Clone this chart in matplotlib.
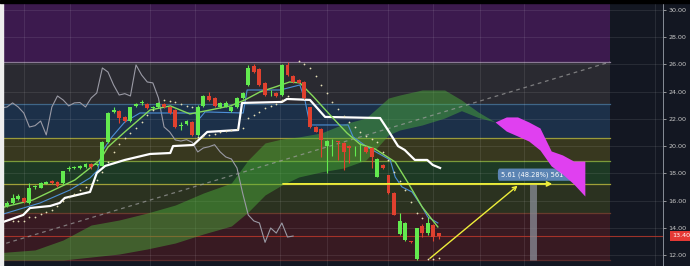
import numpy as np
import matplotlib.pyplot as plt
from matplotlib.patches import Rectangle, FancyBboxPatch

# candles, bar index 0..77
opens = [15.60, 15.82, 16.11, 16.19, 15.82, 16.98, 16.92, 17.22, 17.44, 17.36,
         17.29, 18.30, 18.39, 18.39, 18.46, 18.68, 18.60, 18.54, 20.30, 22.51,
         22.58, 22.14, 21.84, 22.95, 23.15, 23.09, 22.80, 22.87, 23.09, 22.87,
         22.65, 21.46, 21.62, 21.77, 20.82, 22.95, 23.68, 23.53, 22.87, 22.90,
         22.58, 22.87, 23.53, 24.49, 25.89, 25.66, 24.64, 23.80, 23.90, 23.75,
         25.96, 25.15, 24.86, 24.71, 22.87, 21.40, 21.26, 20.00, 20.42, 20.32,
         20.23, 19.99, 19.90, 20.05, 19.93, 19.86, 17.73, 18.61, 17.88, 16.55,
         13.54, 13.10, 12.98, 11.70, 14.13, 13.61, 14.20, 13.61]
closes = [15.82, 16.19, 16.33, 15.89, 16.92, 17.02, 17.29, 17.36, 17.29, 17.07,
          18.17, 18.34, 18.46, 18.54, 18.68, 18.46, 18.63, 20.30, 22.43, 22.65,
          22.06, 21.84, 22.87, 23.09, 23.19, 22.80, 22.87, 23.17, 22.87, 22.43,
          21.40, 21.50, 21.84, 20.82, 22.87, 23.68, 23.39, 22.95, 23.17, 23.20,
          22.87, 23.53, 23.90, 25.74, 25.44, 24.49, 23.75, 23.85, 23.68, 25.96,
          25.22, 24.71, 24.64, 23.53, 21.40, 21.04, 20.45, 20.37, 20.47, 20.28,
          19.57, 19.86, 19.95, 20.10, 19.57, 19.20, 19.05, 18.39, 16.55, 14.94,
          14.50, 14.35, 12.93, 13.98, 13.61, 14.35, 13.32, 13.39]
highs = [16.00, 16.48, 16.45, 16.25, 17.29, 17.15, 17.35, 17.42, 17.50, 17.40,
         18.20, 18.50, 18.55, 18.60, 18.75, 18.72, 18.75, 20.35, 22.50, 22.87,
         22.65, 22.20, 22.90, 23.20, 23.35, 23.15, 22.95, 23.25, 23.15, 22.95,
         22.70, 21.80, 21.95, 21.85, 23.00, 23.75, 23.98, 23.60, 23.25, 23.30,
         22.95, 23.60, 24.00, 25.96, 26.03, 25.70, 24.70, 24.10, 23.95, 26.00,
         26.18, 25.20, 24.90, 24.75, 22.90, 21.45, 21.30, 20.45, 20.55, 20.40,
         20.30, 20.05, 20.00, 20.20, 20.00, 19.90, 19.10, 18.65, 17.90, 16.60,
         15.08, 14.40, 13.00, 14.00, 14.30, 14.79, 14.25, 13.60]
lows = [15.50, 15.75, 16.05, 15.80, 15.75, 16.85, 16.90, 17.18, 17.25, 17.00,
        17.20, 18.15, 18.35, 18.35, 18.40, 18.30, 18.50, 18.50, 20.25, 22.45,
        21.70, 21.75, 21.80, 22.90, 23.05, 22.75, 22.75, 22.80, 22.80, 22.35,
        21.30, 21.20, 21.55, 20.75, 20.75, 22.90, 23.30, 22.90, 22.80, 22.85,
        22.50, 22.80, 23.45, 24.40, 25.40, 24.40, 23.70, 23.70, 23.60, 23.70,
        25.15, 24.65, 24.60, 23.45, 21.30, 21.00, 19.20, 18.02, 19.30, 19.00,
        18.24, 18.76, 19.30, 18.90, 19.50, 18.40, 17.70, 18.35, 16.50, 14.90,
        13.50, 13.05, 12.90, 11.62, 13.30, 13.50, 13.00, 13.20]

# fib retracement
fib_low = 11.63
fib_high = 26.18
fib_ratios = [0, 0.236, 0.382, 0.5, 0.618, 0.786, 1.0, 1.618]
fib_start, fib_end = -10.1, 107.5

# ichimoku cloud (leading spans, shifted 26 bars ahead)
cloud_idx = [-2, 5, 10, 15, 20, 25, 30, 35, 40, 43, 46, 49, 52, 56, 60, 64,
             68, 70, 74, 78, 81, 84, 87, 89, 91, 93, 95, 97, 99, 101, 103]
span_a = [12.15, 12.37, 13.10, 14.20, 14.57, 15.08, 15.67, 16.55, 17.29, 18.98,
          20.23, 20.52, 20.67, 20.96, 21.62, 22.06, 23.53, 23.75, 24.12, 24.12,
          23.39, 22.50, 21.77, 21.10, 20.74, 20.37, 19.71, 18.54, 17.95, 17.22, 16.33]
span_b = [11.63, 11.63, 11.63, 11.85, 12.07, 12.44, 12.88, 13.54, 14.13, 15.16,
          16.41, 17.14, 17.73, 18.10, 18.39, 18.98, 20.82, 21.18, 21.55, 22.06,
          22.60, 22.10, 21.77, 22.14, 22.14, 21.77, 21.33, 19.64, 19.35, 18.90, 18.90]

# base line (white), conversion line (blue), moving average (green)
kijun_idx = [-0.7, 2.9, 4.1, 7.7, 9.4, 10.3, 14.8, 16.0, 17.5, 21.0, 25.5, 29.1,
             29.6, 33.2, 35.7, 41.2, 41.9, 49.0, 49.9, 54.0, 56.7, 66.5, 67.9,
             69.7, 70.9, 72.7, 74.9, 75.9, 77.2]
kijun = [14.42, 14.94, 15.45, 15.60, 15.82, 16.19, 16.63, 18.02, 18.54, 18.98,
         19.42, 19.49, 20.00, 20.08, 21.04, 21.18, 23.17, 23.24, 23.46, 23.39,
         22.14, 22.06, 21.18, 20.00, 19.71, 18.98, 18.98, 18.61, 18.39]
tenkan_idx = [-1.2, 5.9, 11.2, 14.8, 16.2, 16.9, 18.7, 21.0, 23.7, 33.5, 34.4,
              35.3, 42.1, 42.8, 48.7, 52.2, 53.1, 54.0, 60.8, 61.7, 64.2, 66.1,
              68.3, 69.2, 70.4, 72.2, 74.0, 75.0, 76.8]
tenkan = [14.94, 15.82, 16.77, 17.66, 18.24, 19.57, 20.67, 21.77, 22.43, 22.43,
          22.06, 22.51, 22.43, 24.12, 24.12, 24.49, 23.39, 21.55, 21.55, 20.67,
          19.93, 19.49, 18.98, 17.73, 17.00, 16.63, 15.53, 14.79, 14.35]
ema_idx = [-1.2, 4.6, 12.1, 16.6, 18.0, 21.0, 25.5, 29.1, 32.6, 36.2, 39.8, 42.4,
           45.1, 47.8, 50.4, 52.2, 54.5, 57.6, 60.6, 62.9, 65.6, 69.2, 71.5, 74.0, 76.8]
ema = [15.45, 16.04, 17.51, 18.98, 19.93, 21.04, 22.65, 22.95, 22.36, 22.65, 22.95,
       23.39, 23.98, 24.34, 24.71, 24.64, 23.68, 22.28, 20.96, 20.15, 19.79, 18.83,
       17.29, 15.53, 14.06]
lag = 26

# parabolic sar dots
sar_idx = [1, 2, 3, 4, 5, 6, 7, 8, 9, 10, 11, 12, 13, 14, 15, 16, 17, 18, 19, 20,
           21, 22, 23, 24, 25, 26, 28, 29, 30, 31, 32, 33, 34, 35, 36, 37, 38, 39,
           40, 41, 42, 43, 44, 45, 46, 47, 48, 49, 50, 52, 53, 54, 55, 56, 57, 58,
           59, 60, 61, 62, 63, 64, 65, 66, 67, 68, 69, 70, 71, 72, 73, 74, 75, 76, 77]
sar = [14.50, 14.50, 14.50, 14.79, 14.79, 15.01, 15.16, 15.30, 15.60, 15.97, 16.26,
       16.48, 16.77, 17.00, 17.22, 17.51, 18.10, 18.83, 19.57, 20.15, 20.60, 20.96,
       21.33, 21.77, 22.28, 22.65, 23.35, 23.30, 23.25, 23.10, 22.95, 22.90, 20.67,
       20.74, 20.82, 20.89, 21.04, 21.11, 21.18, 21.26, 21.33, 22.06, 22.28, 22.51,
       22.80, 22.95, 23.09, 23.39, 23.68, 26.25, 26.03, 25.74, 25.15, 24.49, 23.90,
       23.24, 22.73, 22.21, 21.77, 21.40, 21.04, 20.74, 20.52, 20.30, 19.57, 18.98,
       18.10, 17.44, 16.77, 15.89, 15.08, 14.72, 11.70, 11.70, 11.78]

# drawings
level_price = 17.22
level_from, level_to = 48.7, 97.7
proj_from, proj_to = 75.0, 91.4
range_low, range_high, range_at = 11.62, 17.22, 93.8
last_price = 13.40
vgrid = [3.0, 11.2, 25.5, 33.5, 48.7, 57.0, 67.9, 75.9, 84.3, 92.2, 115.5]
yticks = [12, 14, 16, 18, 20, 22, 24, 26, 28, 30]

band_colors = ['#381a22', '#2b3220', '#1d3a25', '#38381f', '#1c3049', '#2a2a31', '#3c1a4e']
line_colors = ['#5a2a2a', '#6a3a2c', '#a0a038', '#7a9a3a', '#9a9a3a', '#3f6688', '#8a7a95']

fig = plt.figure(figsize=(6.9, 2.66), dpi=100, facecolor='#131722')
ax = fig.add_axes([3 / 690, 0, 660 / 690, 263 / 266])
ax.set_facecolor('#131722')
ax.set_xlim(-0.71, 116.93)
ax.set_ylim(11.19, 30.51)

# fib bands
levels = [fib_low + r * (fib_high - fib_low) for r in fib_ratios]
for k in range(len(levels) - 1):
    ax.add_patch(Rectangle((-5, levels[k]), fib_end + 5, levels[k + 1] - levels[k],
                           color=band_colors[k], lw=0, zorder=0.1))
for k in range(len(levels) - 1):
    ax.plot([-5, fib_end], [levels[k], levels[k]], color=line_colors[k], lw=0.9, zorder=0.3)
ax.plot([fib_start, fib_end], [fib_low, fib_high], color='#a0a0a0', lw=0.9,
        dashes=(3, 3), alpha=0.7, zorder=2.5)

ax.set_axisbelow(True)
ax.set_xticks(vgrid)
ax.set_yticks(yticks)
ax.grid(True, color='white', alpha=0.09, lw=0.7)

# cloud
ca, cb = np.array(span_a), np.array(span_b)
ax.fill_between(cloud_idx, ca, cb, where=ca >= cb, interpolate=True,
                color='#4caf3a', alpha=0.47, lw=0, zorder=2)

# price range tool
ax.add_patch(FancyBboxPatch((87.5, 17.45), 13.5, 0.9, boxstyle='round,pad=0,rounding_size=0.3',
                            color='#5b84b3', lw=0, zorder=2.6))
ax.text(88.0, 17.92, '5.61 (48.28%) 561', color='white', fontsize=4.8,
        va='center', ha='left', zorder=2.7)
ax.fill_between(cloud_idx, ca, cb, where=ca < cb, interpolate=True,
                color='#e040f0', alpha=1.0, lw=0, zorder=3)
ax.plot([range_at, range_at], [range_low, range_high], color='#8a8e98', lw=5,
        alpha=0.75, solid_capstyle='butt', zorder=3.5)

# price line
ax.axhline(last_price, color='#c0392b', lw=0.8, alpha=0.8, zorder=1)

# indicator lines
ax.plot(np.arange(-1, len(closes) - lag), closes[lag - 1:], color='#9a9aa5', lw=0.8, zorder=4)
ax.plot(kijun_idx, kijun, color='white', lw=1.6, zorder=4.2)
ax.plot(tenkan_idx, tenkan, color='#4d8fd6', lw=0.8, zorder=4.1)
ax.plot(ema_idx, ema, color='#86d95a', lw=1.0, zorder=4.3)

# candles
idx = np.arange(len(opens))
o, c = np.array(opens), np.array(closes)
cols = np.where(c >= o, '#63ea4f', '#e0412f')
ax.vlines(idx, lows, highs, colors=cols, lw=0.8, zorder=5)
ax.bar(idx, np.maximum(np.abs(c - o), 0.06), bottom=np.minimum(o, c), width=0.7,
       color=cols, lw=0, zorder=5.1)

ax.scatter(sar_idx, sar, s=1.6, color='#e6e0b8', lw=0, zorder=6)

# yellow drawings
ax.annotate('', xy=(level_to, level_price), xytext=(level_from, level_price),
            arrowprops=dict(arrowstyle='->', color='#eeee3a', lw=1.3, mutation_scale=7), zorder=7)
ax.annotate('', xy=(proj_to, range_high), xytext=(proj_from, range_low),
            arrowprops=dict(arrowstyle='->', color='#eeee3a', lw=1.0, mutation_scale=7), zorder=7)

# axis
ax.yaxis.tick_right()
ax.set_yticklabels([f'{v:.2f}' for v in yticks])
ax.tick_params(axis='y', colors='#c8c8c8', labelsize=4.6, length=2, pad=2, width=0.5)
ax.tick_params(axis='x', length=0, labelbottom=False)
for side in ['left', 'top', 'bottom']:
    ax.spines[side].set_visible(False)
ax.spines['right'].set_color('#9aa0aa')
ax.spines['right'].set_linewidth(0.6)
ax.annotate(f'{last_price:.2f}', xy=(1.0, last_price), xycoords=('axes fraction', 'data'),
            xytext=(13, 0), textcoords='offset points', color='white', fontsize=4.6,
            ha='center', va='center', annotation_clip=False,
            bbox=dict(boxstyle='square,pad=0.35', fc='#e53935', ec='none'))

fig.patches.append(Rectangle((0, 0), 3 / 690, 1, transform=fig.transFigure,
                             color='#eeeeee', zorder=10))
fig.patches.append(Rectangle((0, 263 / 266), 1, 3 / 266, transform=fig.transFigure,
                             color='black', zorder=10))

fig.savefig('out.png', dpi=100, facecolor=fig.get_facecolor())
